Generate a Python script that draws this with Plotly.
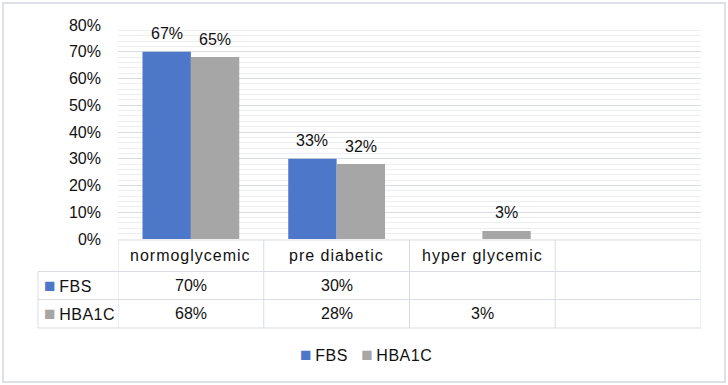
import plotly.graph_objects as go

# ---- data ----
categories = ["normoglycemic", "pre diabetic", "hyper glycemic"]
series_names = ["FBS", "HBA1C"]
fbs_values = [70, 30, None]
hba1c_values = [68, 28, 3]
fbs_labels = ["67%", "33%", ""]
hba1c_labels = ["65%", "32%", "3%"]
fbs_table = ["70%", "30%", ""]
hba1c_table = ["68%", "28%", "3%"]
y_ticks = [0, 10, 20, 30, 40, 50, 60, 70, 80]
y_tick_text = [f"{v}%" for v in y_ticks]

# ---- style ----
W, H = 728, 385
L, R, T, B = 118, 27, 25, 146
PW, PH = W - L - R, H - T - B
FONT = "Liberation Sans, Arial, sans-serif"
TXT = "#111111"
GRID = "#d9dde3"
MINOR = "#eceef2"
C_FBS = "#4d77c9"
C_HBA = "#a6a6a6"
BARGAP = 0.336
N_SLOTS = 4  # three categories plus one empty column in the data table


def px(xp):
    return (xp - L) / PW


def py(yp):
    return (T + PH - yp) / PH


fig = go.Figure()
fig.add_trace(go.Bar(x=categories, y=fbs_values, name=series_names[0],
                     marker=dict(color=C_FBS, line=dict(width=0))))
fig.add_trace(go.Bar(x=categories, y=hba1c_values, name=series_names[1],
                     marker=dict(color=C_HBA, line=dict(width=0))))

annotations = []
off = (1 - BARGAP) / 4
for i, (lab, v) in enumerate(zip(fbs_labels, fbs_values)):
    if lab and v is not None:
        annotations.append(dict(x=i - off, y=v, xref="x", yref="y", text=lab,
                                showarrow=False, yanchor="middle", yshift=18,
                                font=dict(size=16, color=TXT, family=FONT)))
for i, (lab, v) in enumerate(zip(hba1c_labels, hba1c_values)):
    if lab and v is not None:
        annotations.append(dict(x=i + off, y=v, xref="x", yref="y", text=lab,
                                showarrow=False, yanchor="middle", yshift=18,
                                font=dict(size=16, color=TXT, family=FONT)))

# data table rows (pixel y of row boundaries)
y_top, y_r1, y_r2, y_bot = 240, 271.5, 299.5, 328
x_left = 38
for i, c in enumerate(categories):
    annotations.append(dict(x=i, y=py((y_top + y_r1) / 2), xref="x", yref="paper",
                            text=f'<span style="letter-spacing:1px">{c}</span>',
                            showarrow=False, yanchor="middle", xanchor="center",
                            font=dict(size=16, color=TXT, family=FONT)))
for row_vals, yc in ((fbs_table, (y_r1 + y_r2) / 2), (hba1c_table, (y_r2 + y_bot) / 2)):
    for i, t in enumerate(row_vals):
        if t:
            annotations.append(dict(x=i, y=py(yc), xref="x", yref="paper", text=t,
                                    showarrow=False, yanchor="middle", xanchor="center",
                                    font=dict(size=16, color=TXT, family=FONT)))


def key(name, color):
    return (f'<span style="color:{color};font-size:19px">■</span>'
            f'<span style="letter-spacing:0.5px">&#8201;{name}</span>')


for name, color, yc in ((series_names[0], C_FBS, (y_r1 + y_r2) / 2),
                        (series_names[1], C_HBA, (y_r2 + y_bot) / 2)):
    annotations.append(dict(x=px(42), y=py(yc), xref="paper", yref="paper",
                            text=key(name, color), showarrow=False,
                            xanchor="left", yanchor="middle",
                            font=dict(size=16, color=TXT, family=FONT)))

# legend (bottom, centered)
annotations.append(dict(x=px(366), y=py(354), xref="paper", yref="paper",
                        text=key(series_names[0], C_FBS) + "&nbsp;&nbsp;&nbsp;" + key(series_names[1], C_HBA),
                        showarrow=False, xanchor="center", yanchor="middle",
                        font=dict(size=16, color=TXT, family=FONT)))

shapes = []
line = dict(color=GRID, width=1)
# horizontal table lines
shapes.append(dict(type="line", xref="paper", yref="paper", x0=0, x1=1,
                    y0=py(y_top), y1=py(y_top), line=line))
for yy in (y_r1, y_r2, y_bot):
    shapes.append(dict(type="line", xref="paper", yref="paper", x0=px(x_left), x1=1,
                       y0=py(yy), y1=py(yy), line=line))
# vertical table lines
for k in range(N_SLOTS + 1):
    shapes.append(dict(type="line", xref="x", yref="paper", x0=k - 0.5, x1=k - 0.5,
                       y0=py(y_top), y1=py(y_bot), line=line))
shapes.append(dict(type="line", xref="paper", yref="paper", x0=px(x_left), x1=px(x_left),
                   y0=py(y_r1), y1=py(y_bot), line=line))
# outer border
shapes.append(dict(type="rect", xref="paper", yref="paper", x0=px(3), x1=px(725),
                   y0=py(382), y1=py(3), line=dict(color="#dde1e7", width=2)))

fig.update_layout(
    width=W, height=H,
    margin=dict(l=L, r=R, t=T, b=B),
    paper_bgcolor="white", plot_bgcolor="white",
    barmode="group", bargap=BARGAP, bargroupgap=0,
    showlegend=False,
    font=dict(family=FONT, size=16, color=TXT),
    xaxis=dict(type="category", range=[-0.5, N_SLOTS - 0.5], showticklabels=False,
               showgrid=False, zeroline=False, showline=False, ticks=""),
    yaxis=dict(range=[0, 80], tickmode="array", tickvals=y_ticks, ticktext=y_tick_text,
               showgrid=True, gridcolor=GRID, gridwidth=1, zeroline=False,
               showline=False, ticks="", ticklabelstandoff=16,
               tickfont=dict(size=16, color=TXT, family=FONT),
               minor=dict(dtick=2, showgrid=True, gridcolor=MINOR, gridwidth=1)),
    annotations=annotations,
    shapes=shapes,
)

fig.write_html("out.html", config={"displayModeBar": False},
               post_script="document.body.style.margin='0';")
